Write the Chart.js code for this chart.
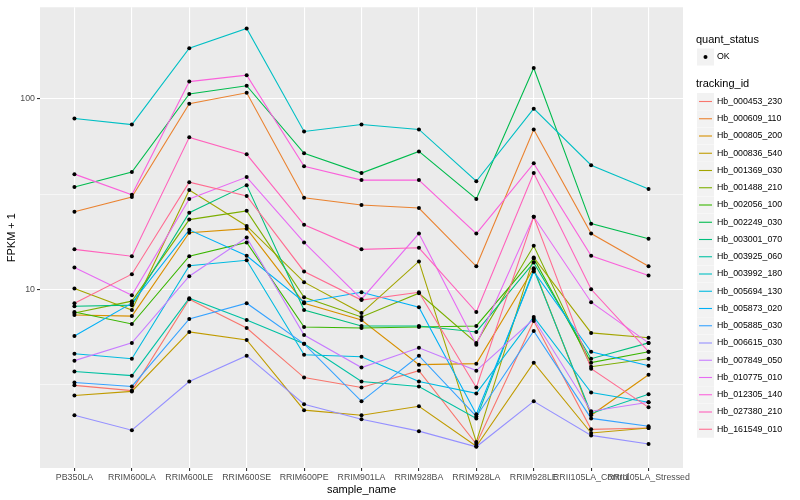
<!DOCTYPE html>
<html>
<head>
<meta charset="utf-8">
<script src="https://cdn.jsdelivr.net/npm/chart.js@4.4.0/dist/chart.umd.min.js"></script>
<style>
  html, body { margin: 0; padding: 0; background: #fff; }
  canvas { display: block; }
</style>
</head>
<body>
<canvas id="chart" width="800" height="500"></canvas>
<script>
const sampleNames = ['PB350LA', 'RRIM600LA', 'RRIM600LE', 'RRIM600SE', 'RRIM600PE', 'RRIM901LA',
  'RRIM928BA', 'RRIM928LA', 'RRIM928LE', 'RRII105LA_Control', 'RRII105LA_Stressed'];

const trackingIds = ['Hb_000453_230', 'Hb_000609_110', 'Hb_000805_200', 'Hb_000836_540', 'Hb_001369_030',
  'Hb_001488_210', 'Hb_002056_100', 'Hb_002249_030', 'Hb_003001_070', 'Hb_003925_060',
  'Hb_003992_180', 'Hb_005694_130', 'Hb_005873_020', 'Hb_005885_030', 'Hb_006615_030',
  'Hb_007849_050', 'Hb_010775_010', 'Hb_012305_140', 'Hb_027380_210', 'Hb_161549_010'];

// FPKM + 1, one value per sample
const hb_000453_230 = [3.13, 2.94, 8.87, 6.26, 3.44, 3.05, 3.74, 1.54, 6.81, 1.84, 1.87];
const hb_000609_110 = [25.5, 30.5, 94.2, 107.5, 30.2, 27.7, 26.7, 13.2, 69.0, 19.6, 13.2];
const hb_000805_200 = [7.32, 7.23, 19.8, 20.8, 8.45, 6.90, 4.02, 4.07, 12.9, 2.18, 3.56];
const hb_000836_540 = [2.77, 2.91, 5.97, 5.42, 2.32, 2.18, 2.43, 1.50, 4.12, 1.76, 1.87];
const hb_001369_030 = [10.1, 7.78, 33.2, 21.5, 10.9, 7.50, 14.0, 1.58, 14.7, 5.90, 5.56];
const hb_001488_210 = [7.50, 8.66, 23.2, 25.8, 9.08, 7.15, 9.53, 5.23, 16.9, 3.92, 4.32];
const hb_002056_100 = [7.59, 6.57, 14.9, 17.6, 6.34, 6.26, 6.34, 6.42, 14.5, 4.12, 4.70];
const hb_002249_030 = [34.4, 41.2, 106, 117, 51.7, 40.7, 52.9, 29.8, 145, 22.1, 18.4];
const hb_003001_070 = [8.15, 8.25, 25.2, 35.2, 7.78, 6.42, 6.42, 5.97, 13.8, 4.32, 5.23];
const hb_003925_060 = [3.70, 3.52, 8.98, 6.90, 5.17, 3.28, 3.09, 2.10, 12.7, 2.23, 2.81];
const hb_003992_180 = [78.7, 73.2, 184, 234, 67.3, 73.2, 69.0, 36.9, 88.7, 44.8, 33.6];
const hb_005694_130 = [4.59, 4.32, 13.3, 14.2, 4.53, 4.42, 3.28, 2.84, 7.15, 2.87, 2.55];
const hb_005873_020 = [5.69, 8.45, 20.5, 15.0, 8.55, 9.64, 8.05, 2.21, 12.4, 4.70, 3.97];
const hb_005885_030 = [3.24, 3.09, 6.98, 8.45, 5.17, 2.58, 4.48, 2.15, 6.04, 2.10, 1.91];
const hb_006615_030 = [2.18, 1.82, 3.28, 4.48, 2.49, 2.08, 1.80, 1.49, 2.58, 1.71, 1.54];
const hb_007849_050 = [4.22, 5.23, 11.7, 18.7, 5.75, 3.88, 4.93, 3.74, 6.98, 2.29, 2.55];
const hb_010775_010 = [13.0, 9.31, 29.8, 38.8, 17.6, 8.87, 19.6, 5.11, 24.0, 8.55, 5.23];
const hb_012305_140 = [40.2, 31.3, 123, 133, 44.2, 37.4, 37.4, 19.6, 45.8, 15.0, 11.8];
const hb_027380_210 = [16.2, 14.9, 62.7, 51.1, 21.8, 16.2, 16.5, 7.59, 40.7, 10.0, 4.70];
const hb_161549_010 = [8.45, 12.0, 36.5, 30.9, 12.4, 8.77, 9.64, 3.05, 24.0, 3.83, 2.40];

const seriesValues = [hb_000453_230, hb_000609_110, hb_000805_200, hb_000836_540, hb_001369_030,
  hb_001488_210, hb_002056_100, hb_002249_030, hb_003001_070, hb_003925_060,
  hb_003992_180, hb_005694_130, hb_005873_020, hb_005885_030, hb_006615_030,
  hb_007849_050, hb_010775_010, hb_012305_140, hb_027380_210, hb_161549_010];

const yMajorTicks = [10, 100];
const yMinorTicks = [3.162, 31.62];

// ggplot hue palette, 20 levels
const seriesColors = ['#F8766D', '#EA8331', '#D89000', '#C09B00', '#A3A500', '#7CAE00', '#39B600',
  '#00BB4E', '#00BF7D', '#00C1A3', '#00BFC4', '#00BAE0', '#00B0F6', '#35A2FF', '#9590FF',
  '#C77CFF', '#E76BF3', '#FA62DB', '#FF62BC', '#FF6C91'];

const FONT = "'Liberation Sans', Arial, sans-serif";

const lineSets = seriesValues.map((vals, i) => ({
    label: trackingIds[i],
    data: vals.map((v, j) => ({ x: j, y: v })),
    borderColor: seriesColors[i],
    borderWidth: 1.1,
    pointRadius: 0,
    fill: false,
    tension: 0,
    order: 100 - i
}));
const pointSets = seriesValues.map((vals, i) => ({
    label: trackingIds[i] + ' OK',
    data: vals.map((v, j) => ({ x: j, y: v })),
    showLine: false,
    pointRadius: 2,
    pointBorderWidth: 0,
    pointBackgroundColor: '#000',
    order: 0
}));

const isMajor = (ctx) => ctx.tick && yMajorTicks.includes(ctx.tick.value);

// panel background, titles and legend
const ggDecor = {
    id: 'ggDecor',
    beforeDraw(chart) {
        const { ctx, chartArea: a } = chart;
        ctx.save();
        ctx.fillStyle = '#fff';
        ctx.fillRect(0, 0, chart.width, chart.height);
        ctx.fillStyle = '#EBEBEB';
        ctx.fillRect(a.left, a.top, a.right - a.left, a.bottom - a.top);
        ctx.restore();
    },
    afterDraw(chart) {
        const { ctx, chartArea: a } = chart;
        ctx.save();
        ctx.fillStyle = '#000';
        ctx.textBaseline = 'middle';
        ctx.textAlign = 'center';
        ctx.font = '11px ' + FONT;
        ctx.fillText('sample_name', (a.left + a.right) / 2, 490);
        ctx.save();
        ctx.translate(12, (a.top + a.bottom) / 2);
        ctx.rotate(-Math.PI / 2);
        ctx.fillText('FPKM + 1', 0, 0);
        ctx.restore();

        // legend
        const kx = 697, tx = 717;
        ctx.textAlign = 'left';
        ctx.fillText('quant_status', 696, 40);
        ctx.fillStyle = '#F2F2F2';
        ctx.fillRect(kx, 48.5, 17, 17);
        ctx.fillStyle = '#000';
        ctx.beginPath();
        ctx.arc(kx + 8.5, 57, 2, 0, Math.PI * 2);
        ctx.fill();
        ctx.font = '8.8px ' + FONT;
        ctx.fillText('OK', tx, 57);

        ctx.font = '11px ' + FONT;
        ctx.fillText('tracking_id', 696, 84);
        ctx.font = '8.8px ' + FONT;
        trackingIds.forEach((id, i) => {
            const cy = 101.5 + i * 17.25;
            ctx.fillStyle = '#F2F2F2';
            ctx.fillRect(kx, cy - 8.5, 17, 17);
            ctx.strokeStyle = seriesColors[i];
            ctx.lineWidth = 1.1;
            ctx.beginPath();
            ctx.moveTo(kx + 2, cy);
            ctx.lineTo(kx + 15, cy);
            ctx.stroke();
            ctx.fillStyle = '#000';
            ctx.fillText(id, tx, cy);
        });
        ctx.restore();
    }
};

new Chart(document.getElementById('chart'), {
    type: 'line',
    data: { datasets: [...pointSets, ...lineSets] },
    options: {
        responsive: false,
        animation: false,
        events: [],
        layout: { padding: { left: 0, top: 5, right: 117, bottom: 0 } },
        plugins: { legend: { display: false }, tooltip: { enabled: false } },
        scales: {
            x: {
                type: 'linear',
                min: -0.6,
                max: 10.6,
                afterBuildTicks: (scale) => { scale.ticks = sampleNames.map((_, i) => ({ value: i })); },
                afterFit: (scale) => { scale.height = 32; },
                ticks: {
                    callback: (v) => sampleNames[v],
                    autoSkip: false,
                    maxRotation: 0,
                    minRotation: 0,
                    padding: 1,
                    color: '#4D4D4D',
                    font: { family: FONT, size: 8.8 }
                },
                grid: { color: '#fff', lineWidth: 1.1, tickColor: '#333', tickLength: 3 },
                border: { display: false }
            },
            y: {
                type: 'logarithmic',
                min: 1.153,
                max: 302,
                afterBuildTicks: (scale) => {
                    scale.ticks = [...yMinorTicks, ...yMajorTicks].sort((p, q) => p - q).map(v => ({ value: v }));
                },
                afterFit: (scale) => { scale.width = 40; },
                ticks: {
                    callback: (v) => yMajorTicks.includes(v) ? String(v) : '',
                    autoSkip: false,
                    padding: 2,
                    color: '#4D4D4D',
                    font: { family: FONT, size: 8.8 }
                },
                grid: {
                    color: '#fff',
                    lineWidth: (ctx) => isMajor(ctx) ? 1.1 : 0.55,
                    tickColor: (ctx) => isMajor(ctx) ? '#333' : 'rgba(0,0,0,0)',
                    tickLength: 3
                },
                border: { display: false }
            }
        }
    },
    plugins: [ggDecor]
});
</script>
</body>
</html>
